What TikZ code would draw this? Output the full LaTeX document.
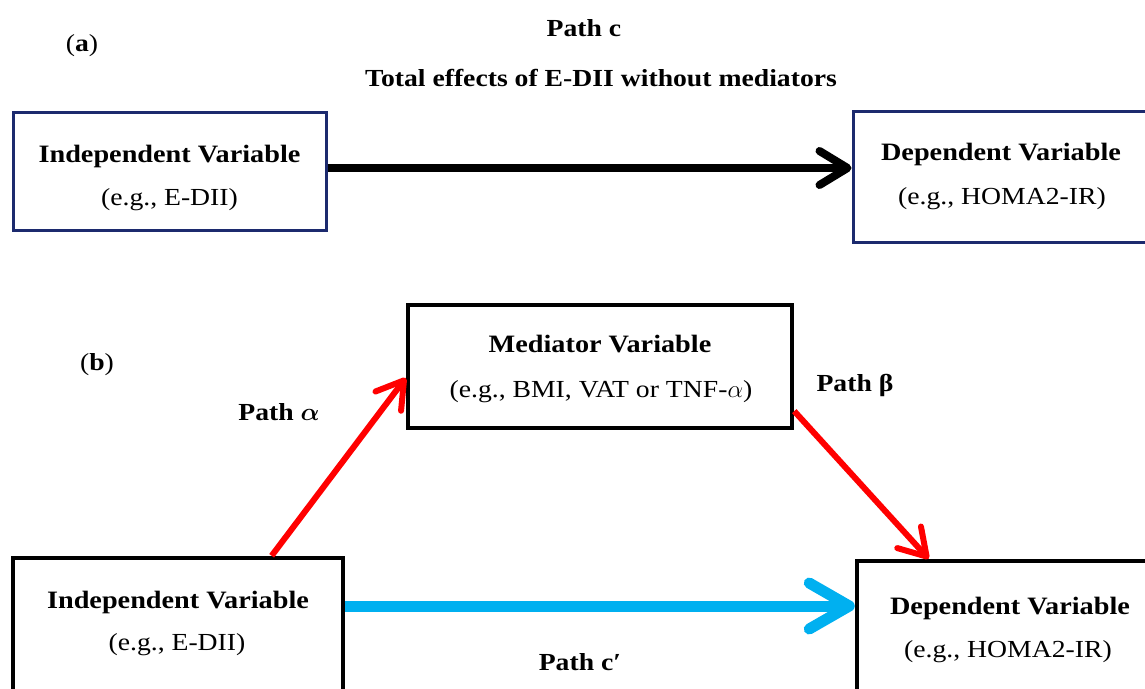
\documentclass[tikz,border=0pt]{standalone}
\usepackage{fontspec}
\setmainfont{Liberation Serif}[FakeStretch=1.13]
\usetikzlibrary{arrows.meta,calc}
\definecolor{navy}{RGB}{28,42,110}
\definecolor{skyarrow}{RGB}{0,176,240}
\definecolor{redarrow}{RGB}{255,0,0}
\begin{document}
\begin{tikzpicture}[x=1pt,y=-1pt,
  navybox/.style={draw=navy,line width=3pt,inner sep=0,fill=white},
  blackbox/.style={draw=black,line width=4.5pt,inner sep=0,fill=white},
  bt/.style={font=\fontsize{25}{29}\selectfont\bfseries,inner sep=0,anchor=base},
  nt/.style={font=\fontsize{24.5}{29}\selectfont,inner sep=0,anchor=base},
  lbl/.style={font=\fontsize{24.5}{28}\selectfont\bfseries,inner sep=0,anchor=base},
  blackarr/.style={draw=black,line width=8pt,-{Straight Barb[length=28pt,width=34pt,round]}},
  bluearr/.style={draw=skyarrow,line width=11pt,-{Straight Barb[length=40pt,width=46pt,round]}},
  redarr/.style={draw=redarrow,line width=6pt,-{Straight Barb[length=26pt,width=32pt,round]}}
]
\useasboundingbox (0,0) rectangle (1145,688);
\fill[white] (0,0) rectangle (1145,688);

% panel (a)
\node[lbl] (la) at (82,51) {{\mdseries(}a{\mdseries)}};
\node[lbl] (pc) at (584,36) {Path c};
\node[lbl] (te) at (601,86) {Total effects of E-DII without mediators};

\node[navybox,minimum width=313pt,minimum height=118pt] (ia) at (169.5,171) {};
\node[navybox,minimum width=295pt,minimum height=131pt] (da) at (1000.5,176.5) {};
\node[bt] (ia1) at (169.5,162) {Independent Variable};
\node[nt] (ia2) at (169.5,205) {(e.g., E-DII)};
\node[bt] (da1) at (1001,160) {Dependent Variable};
\node[nt] (da2) at (1002,204) {(e.g., HOMA2-IR)};

\coordinate (ya) at (0,168);
\draw[blackarr] (ia.east |- ya) -- (da.west |- ya);

% panel (b)
\node[lbl] (lb) at (97,370) {{\mdseries(}b{\mdseries)}};
\node[blackbox,minimum width=384pt,minimum height=123pt] (med) at (600,366.5) {};
\node[bt] (med1) at (600,352) {Mediator Variable};
\node[nt] (med2) at (601,397) {(e.g., BMI, VAT or TNF-$\alpha$)};

\node[blackbox,minimum width=330pt,minimum height=134pt] (ib) at (178,625) {};
\node[blackbox,minimum width=291pt,minimum height=131pt] (db) at (1002.5,626.5) {};
\node[bt] (ib1) at (178,608) {Independent Variable};
\node[nt] (ib2) at (177,650) {(e.g., E-DII)};
\node[bt] (db1) at (1010,614) {Dependent Variable};
\node[nt] (db2) at (1008,657) {(e.g., HOMA2-IR)};

\node[lbl] (pa) at (279,420) {Path {\boldmath$\alpha$}};
\node[lbl] (pb) at (855,391) {Path β};
\node[lbl] (pcp) at (580,670) {Path c′};

\draw[redarr] ($(ib.north west)!0.78!(ib.north east)$) -- ($(med.north west)!0.59!(med.south west)$);
\draw[redarr] ($(med.north east)!0.85!(med.south east)$) -- ($(db.north west)!0.25!(db.north east)$);
\coordinate (yb) at (0,606);
\draw[bluearr] (ib.east |- yb) -- (db.west |- yb);
\end{tikzpicture}
\end{document}
